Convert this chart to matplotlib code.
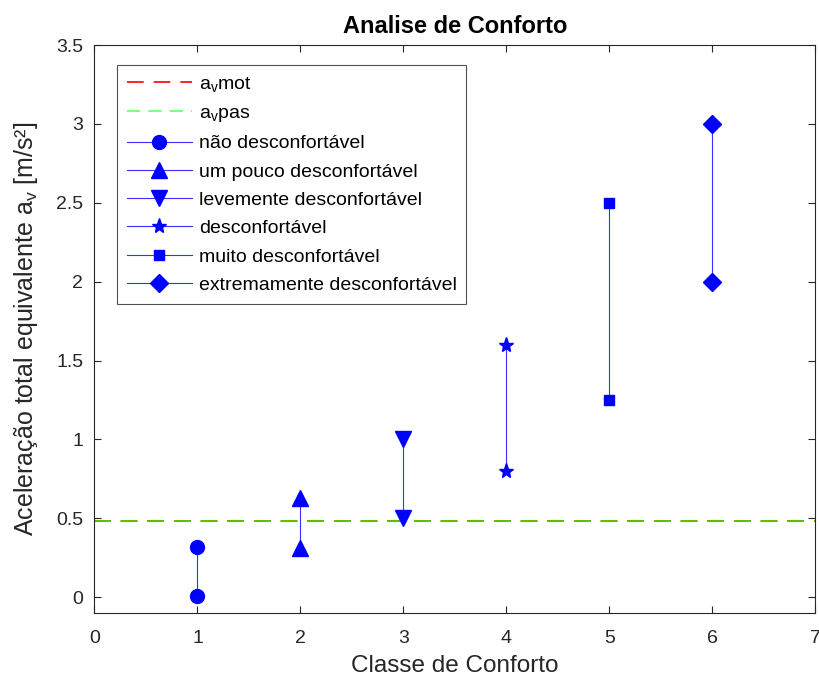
import numpy as np
import matplotlib
matplotlib.use("Agg")
import matplotlib.pyplot as plt

plt.rcParams['font.family'] = ['Liberation Sans', 'DejaVu Sans']
plt.rcParams['mathtext.fontset'] = 'custom'
plt.rcParams['mathtext.rm'] = 'Liberation Sans'
plt.rcParams['mathtext.it'] = 'Liberation Sans'

# comfort classes with lower / upper acceleration limits
classes = [1, 2, 3, 4, 5, 6]
lower = [0.01, 0.315, 0.5, 0.8, 1.25, 2.0]
upper = [0.32, 0.63, 1.0, 1.6, 2.5, 3.0]
labels = ['não desconfortável', 'um pouco desconfortável', 'levemente desconfortável',
          'desconfortável', 'muito desconfortável', 'extremamente desconfortável']
markers = ['o', '^', 'v', '*', 's', 'D']
marker_sizes = [10, 11, 11, 11, 7.5, 9]

av_mot = 0.48
av_pas = 0.48

fig = plt.figure(figsize=(8.2, 6.83), dpi=100)
ax = fig.add_axes([0.1152, 0.1025, 0.8793, 0.8316])

# both thresholds share one dash rhythm (12pt on, 7.2pt off)
ax.axhline(av_mot, color='#ff0000', linestyle=(0, (10, 6)), linewidth=1.2,
           label=r'$\mathregular{a_v}$mot')
ax.axhline(av_pas, color='#5fbf00', linestyle=(0, (8, 4.8)), linewidth=1.5,
           label=r'$\mathregular{a_v}$pas')

for c, lo, hi, lab, m, ms in zip(classes, lower, upper, labels, markers, marker_sizes):
    ax.plot([c, c], [lo, hi], color='#3333ff', linewidth=0.8, marker=m,
            markersize=ms, markerfacecolor='#0000ff', markeredgecolor='#0000ff',
            label=lab)

ax.set_xlim(0, 7)
ax.set_ylim(-0.1, 3.5)
ax.set_xticks(np.arange(0, 8, 1))
ax.set_yticks([0, 0.5, 1, 1.5, 2, 2.5, 3, 3.5])
ax.set_yticklabels(['0', '0.5', '1', '1.5', '2', '2.5', '3', '3.5'])
ax.tick_params(direction='in', top=True, right=True, labelsize=14, colors='#262626',
               length=5)
ax.tick_params(axis='x', pad=12)
ax.tick_params(axis='y', pad=8)
for sp in ax.spines.values():
    sp.set_color('#262626')
    sp.set_linewidth(0.8)

ax.set_title('Analise de Conforto', fontsize=17, fontweight='bold', pad=9)
ax.set_xlabel('Classe de Conforto', fontsize=17.5, color='#262626', labelpad=6)
ax.set_ylabel(r'Aceleração total equivalente $\mathregular{a_v}$ [m/s²]',
              fontsize=18, color='#262626', labelpad=12)

handles, leg_labels = ax.get_legend_handles_labels()
leg = ax.legend(handles, leg_labels, loc='upper left', bbox_to_anchor=(0.0312, 0.9648),
                borderaxespad=0, fontsize=14, frameon=True, fancybox=False,
                edgecolor='#262626', handlelength=3.35, handletextpad=0.35,
                labelspacing=0.55, borderpad=0.5)
leg.get_frame().set_linewidth(0.8)
leg.legend_handles[1].set_color('#66ff66')
leg.legend_handles[1].set_linewidth(1.2)

plt.savefig('out.png', dpi=100)
